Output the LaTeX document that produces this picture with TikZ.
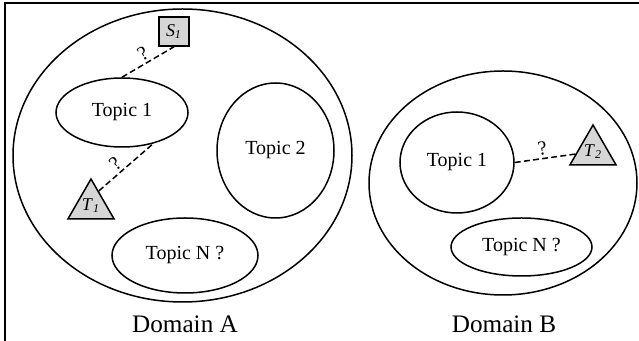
\documentclass[tikz,border=0pt]{standalone}
\usepackage{fontspec}
\setmainfont{Liberation Serif}
\usetikzlibrary{shapes.geometric, positioning}
\definecolor{markgray}{gray}{0.84}

\begin{document}
\begin{tikzpicture}[x=0.5pt, y=-0.5pt,
  every node/.style={font=\fontsize{10}{12}\selectfont},
  domainset/.style={ellipse, draw=black, line width=0.75pt, inner sep=0pt},
  topic/.style={ellipse, draw=black, line width=0.75pt, inner sep=0pt},
  source/.style={rectangle, draw=black, line width=0.75pt, fill=markgray,
    inner sep=0pt, minimum width=15pt, minimum height=14.5pt,
    font=\fontsize{9}{11}\selectfont},
  target/.style={regular polygon, regular polygon sides=3, draw=black,
    line width=0.75pt, fill=markgray, inner sep=0pt, minimum size=26.6pt,
    font=\fontsize{9}{11}\selectfont},
  link/.style={line width=0.75pt, dash pattern=on 3pt off 1.6pt},
  qmark/.style={inner sep=1.2pt, sloped, above},
  dlabel/.style={font=\fontsize{12.6}{15}\selectfont}]

\useasboundingbox (0,0) rectangle (639,341);
\draw [line width=1pt] (5,350) -- (5,3) -- (650,3);

\node (domA) [domainset, minimum width=169.5pt, minimum height=146.5pt] at (182.5,155.5) {};
\node (domB) [domainset, minimum width=134pt, minimum height=112pt] at (503,183) {};

\node (a1) [topic, minimum width=66pt, minimum height=34.5pt] at (122,112.5) {Topic 1};
\node (a2) [topic, minimum width=58.5pt, minimum height=67.5pt] at (275.5,150.5) {Topic 2};
\node (an) [topic, minimum width=73pt, minimum height=37.5pt] at (185,255.5) {Topic N ?};
\node (b1) [topic, minimum width=57pt, minimum height=50.5pt] at (457,162.5) {Topic 1};
\node (bn) [topic, minimum width=70.5pt, minimum height=29pt] at (521.5,247) {Topic N ?};

\node (s1) [source] at (174,31.5) {\textit{S}\textsubscript{\textit{1}}};
\node (t1) [target] at (91,205.6) {\textit{T}\textsubscript{\textit{1}}};
\node (t2) [target] at (593,151.6) {\textit{T}\textsubscript{\textit{2}}};

\node (albl) [dlabel] at (185,324) {Domain A};
\node (blbl) [dlabel] at (504,324) {Domain B};

\draw [link] (a1.north) -- node [qmark, pos=0.5] {?} (s1.south);
\draw [link] (t1.62) -- node [qmark, pos=0.42] {?} (a1.-45);
\draw [link] (b1.east) -- node [qmark, pos=0.48] {?} (t2);

\end{tikzpicture}
\end{document}
